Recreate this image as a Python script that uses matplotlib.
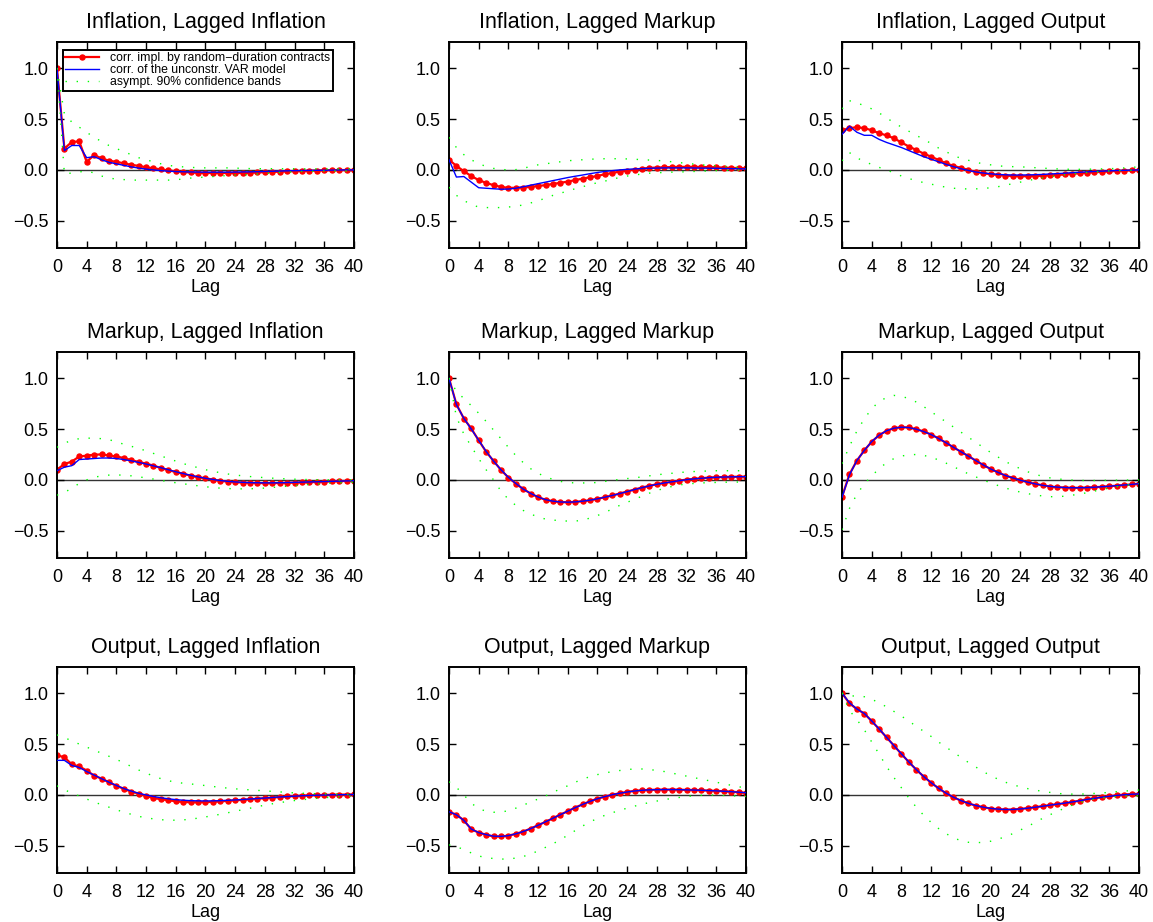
import matplotlib.pyplot as plt
import numpy as np
from matplotlib.ticker import FuncFormatter

plt.rcParams['font.family'] = ['Liberation Sans', 'DejaVu Sans']

lags = np.arange(41)

titles = ['Inflation, Lagged Inflation', 'Inflation, Lagged Markup', 'Inflation, Lagged Output',
          'Markup, Lagged Inflation', 'Markup, Lagged Markup', 'Markup, Lagged Output',
          'Output, Lagged Inflation', 'Output, Lagged Markup', 'Output, Lagged Output']

# --- Inflation, Lagged Inflation ---
ii_model = [1.00, 0.21, 0.275, 0.28, 0.08, 0.145, 0.115, 0.09, 0.08, 0.065, 0.05, 0.04, 0.026, 0.016, 0.005,
            -0.005, -0.013, -0.02, -0.025, -0.028, -0.03, -0.03, -0.03, -0.03, -0.03, -0.03, -0.028, -0.025,
            -0.022, -0.02, -0.017, -0.014, -0.012, -0.01, -0.008, -0.006, -0.004, -0.003, -0.002, -0.001, 0.0]
ii_var = [1.00, 0.19, 0.24, 0.24, 0.12, 0.13, 0.10, 0.075, 0.06, 0.045, 0.03, 0.018, 0.008, 0.0, -0.007,
          -0.012, -0.016, -0.018, -0.02, -0.021, -0.022, -0.022, -0.022, -0.022, -0.021, -0.02, -0.019, -0.017,
          -0.015, -0.013, -0.011, -0.009, -0.007, -0.006, -0.005, -0.004, -0.003, -0.002, -0.001, 0.0, 0.0]
ii_upper = [1.0, 0.55, 0.47, 0.42, 0.37, 0.32, 0.28, 0.24, 0.21, 0.18, 0.15, 0.12, 0.10, 0.08, 0.06, 0.045,
            0.035, 0.03, 0.025, 0.022, 0.02, 0.02, 0.02, 0.02, 0.018, 0.015, 0.013, 0.012, 0.012, 0.012, 0.012,
            0.012, 0.012, 0.011, 0.01, 0.01, 0.01, 0.01, 0.01, 0.01, 0.01]
ii_lower = [1.0, -0.04, -0.03, -0.02, -0.01, -0.03, -0.06, -0.08, -0.09, -0.095, -0.10, -0.10, -0.10, -0.10,
            -0.10, -0.10, -0.095, -0.09, -0.08, -0.075, -0.07, -0.065, -0.06, -0.055, -0.05, -0.05, -0.045,
            -0.04, -0.035, -0.03, -0.025, -0.02, -0.02, -0.015, -0.015, -0.012, -0.01, -0.01, -0.01, -0.01, -0.01]

# --- Inflation, Lagged Markup ---
im_model = [0.10, 0.04, -0.013, -0.06, -0.10, -0.127, -0.15, -0.167, -0.176, -0.176, -0.173, -0.167, -0.157,
            -0.15, -0.137, -0.127, -0.114, -0.10, -0.085, -0.072, -0.059, -0.042, -0.03, -0.016, -0.007, 0.003,
            0.013, 0.02, 0.023, 0.026, 0.028, 0.03, 0.03, 0.03, 0.029, 0.027, 0.025, 0.023, 0.02, 0.018, 0.015]
im_var = [0.10, -0.07, -0.065, -0.12, -0.175, -0.18, -0.185, -0.19, -0.188, -0.18, -0.165, -0.15, -0.135,
          -0.12, -0.105, -0.09, -0.075, -0.062, -0.05, -0.037, -0.025, -0.015, -0.007, 0.0, 0.006, 0.01, 0.013,
          0.016, 0.018, 0.02, 0.02, 0.02, 0.02, 0.019, 0.018, 0.017, 0.016, 0.014, 0.013, 0.011, 0.01]
im_upper = [0.32, 0.22, 0.15, 0.10, 0.06, 0.035, 0.015, 0.005, 0.0, 0.003, 0.015, 0.035, 0.05, 0.06, 0.07,
            0.08, 0.09, 0.095, 0.10, 0.105, 0.108, 0.11, 0.11, 0.11, 0.108, 0.105, 0.10, 0.097, 0.093, 0.088,
            0.08, 0.072, 0.065, 0.057, 0.05, 0.045, 0.04, 0.035, 0.03, 0.025, 0.02]
im_lower = [-0.17, -0.25, -0.30, -0.34, -0.365, -0.37, -0.37, -0.37, -0.365, -0.355, -0.345, -0.325, -0.30,
            -0.28, -0.25, -0.23, -0.205, -0.185, -0.165, -0.145, -0.125, -0.11, -0.09, -0.075, -0.06, -0.05,
            -0.04, -0.032, -0.028, -0.025, -0.022, -0.02, -0.018, -0.015, -0.012, -0.01, -0.007, -0.005, -0.003,
            -0.001, 0.0]

# --- Inflation, Lagged Output ---
io_model = [0.39, 0.41, 0.42, 0.41, 0.39, 0.36, 0.34, 0.31, 0.27, 0.23, 0.196, 0.16, 0.13, 0.098, 0.065, 0.04,
            0.02, 0.0, -0.02, -0.033, -0.042, -0.05, -0.055, -0.06, -0.062, -0.062, -0.06, -0.057, -0.053, -0.05,
            -0.044, -0.038, -0.033, -0.028, -0.023, -0.018, -0.014, -0.01, -0.007, -0.004, 0.0]
io_var = [0.35, 0.43, 0.37, 0.34, 0.34, 0.30, 0.27, 0.245, 0.22, 0.19, 0.16, 0.13, 0.105, 0.08, 0.055, 0.032,
          0.012, -0.005, -0.02, -0.03, -0.038, -0.044, -0.048, -0.05, -0.05, -0.049, -0.047, -0.044, -0.04,
          -0.036, -0.032, -0.027, -0.023, -0.019, -0.015, -0.012, -0.009, -0.006, -0.004, -0.002, 0.0]
io_upper = [0.60, 0.68, 0.66, 0.63, 0.60, 0.56, 0.51, 0.465, 0.42, 0.38, 0.34, 0.30, 0.26, 0.215, 0.18, 0.14,
            0.115, 0.095, 0.075, 0.06, 0.05, 0.04, 0.035, 0.032, 0.03, 0.027, 0.022, 0.018, 0.013, 0.01, 0.007,
            0.006, 0.006, 0.007, 0.008, 0.01, 0.012, 0.015, 0.02, 0.025, 0.03]
io_lower = [0.09, 0.17, 0.12, 0.08, 0.055, 0.025, 0.0, -0.03, -0.06, -0.085, -0.105, -0.125, -0.14, -0.155,
            -0.17, -0.18, -0.185, -0.187, -0.186, -0.183, -0.175, -0.165, -0.15, -0.135, -0.12, -0.105, -0.09,
            -0.078, -0.068, -0.058, -0.048, -0.04, -0.032, -0.025, -0.02, -0.015, -0.01, -0.007, -0.005, -0.003, 0.0]

# --- Markup, Lagged Inflation ---
mi_model = [0.10, 0.156, 0.18, 0.23, 0.238, 0.248, 0.25, 0.24, 0.23, 0.215, 0.195, 0.176, 0.16, 0.14, 0.117,
            0.095, 0.078, 0.059, 0.042, 0.026, 0.016, 0.003, -0.01, -0.016, -0.023, -0.026, -0.029, -0.03, -0.032,
            -0.032, -0.03, -0.029, -0.027, -0.025, -0.023, -0.02, -0.018, -0.015, -0.012, -0.01, -0.008]
mi_var = [0.09, 0.125, 0.14, 0.20, 0.205, 0.21, 0.215, 0.215, 0.21, 0.20, 0.187, 0.172, 0.156, 0.138, 0.12,
          0.10, 0.08, 0.062, 0.045, 0.03, 0.016, 0.004, -0.006, -0.014, -0.02, -0.024, -0.027, -0.028, -0.029,
          -0.029, -0.028, -0.026, -0.024, -0.022, -0.02, -0.018, -0.016, -0.014, -0.012, -0.01, -0.008]
mi_upper = [0.32, 0.36, 0.39, 0.405, 0.41, 0.41, 0.405, 0.395, 0.375, 0.35, 0.33, 0.31, 0.285, 0.26, 0.235,
            0.21, 0.185, 0.16, 0.14, 0.12, 0.10, 0.085, 0.07, 0.058, 0.048, 0.04, 0.033, 0.027, 0.022, 0.017,
            0.013, 0.01, 0.007, 0.005, 0.003, 0.002, 0.001, 0.0, 0.0, 0.0, 0.0]
mi_lower = [-0.15, -0.125, -0.08, -0.035, 0.0, 0.025, 0.04, 0.047, 0.05, 0.045, 0.04, 0.03, 0.02, 0.008,
            -0.005, -0.017, -0.028, -0.038, -0.048, -0.058, -0.067, -0.075, -0.081, -0.085, -0.088, -0.088,
            -0.087, -0.085, -0.08, -0.074, -0.068, -0.062, -0.056, -0.05, -0.044, -0.04, -0.035, -0.031, -0.028,
            -0.025, -0.022]

# --- Markup, Lagged Markup ---
mm_model = [1.0, 0.743, 0.603, 0.505, 0.388, 0.277, 0.186, 0.098, 0.023, -0.036, -0.09, -0.134, -0.17, -0.195,
            -0.21, -0.218, -0.22, -0.216, -0.209, -0.2, -0.186, -0.17, -0.153, -0.134, -0.114, -0.095, -0.075,
            -0.059, -0.042, -0.03, -0.02, -0.007, 0.003, 0.01, 0.016, 0.023, 0.026, 0.028, 0.03, 0.031, 0.032]
mm_var = [1.0, 0.74, 0.605, 0.50, 0.39, 0.28, 0.185, 0.10, 0.025, -0.035, -0.09, -0.133, -0.168, -0.194,
          -0.209, -0.217, -0.219, -0.216, -0.209, -0.199, -0.186, -0.17, -0.153, -0.134, -0.115, -0.095, -0.076,
          -0.059, -0.043, -0.03, -0.019, -0.008, 0.002, 0.01, 0.016, 0.022, 0.026, 0.028, 0.03, 0.031, 0.032]
mm_upper = [1.0, 0.87, 0.80, 0.73, 0.655, 0.575, 0.49, 0.405, 0.32, 0.24, 0.17, 0.11, 0.065, 0.03, 0.005,
            -0.015, -0.025, -0.03, -0.03, -0.03, -0.025, -0.015, -0.005, 0.005, 0.013, 0.02, 0.03, 0.04, 0.05,
            0.058, 0.065, 0.072, 0.078, 0.082, 0.085, 0.088, 0.09, 0.09, 0.09, 0.09, 0.09]
mm_lower = [1.0, 0.62, 0.45, 0.33, 0.21, 0.10, 0.0, -0.11, -0.19, -0.25, -0.30, -0.335, -0.365, -0.385,
            -0.395, -0.40, -0.405, -0.405, -0.395, -0.375, -0.35, -0.32, -0.285, -0.25, -0.22, -0.19, -0.16,
            -0.13, -0.105, -0.082, -0.065, -0.05, -0.04, -0.035, -0.03, -0.027, -0.025, -0.023, -0.022, -0.021, -0.02]

# --- Markup, Lagged Output ---
mo_model = [-0.166, 0.055, 0.19, 0.29, 0.375, 0.44, 0.482, 0.508, 0.518, 0.515, 0.498, 0.476, 0.446, 0.407,
            0.365, 0.32, 0.277, 0.235, 0.19, 0.147, 0.107, 0.075, 0.042, 0.02, -0.003, -0.023, -0.04, -0.052,
            -0.065, -0.072, -0.075, -0.078, -0.078, -0.075, -0.072, -0.068, -0.062, -0.057, -0.05, -0.045, -0.036]
mo_var = [-0.17, 0.05, 0.19, 0.29, 0.377, 0.44, 0.483, 0.508, 0.518, 0.514, 0.498, 0.475, 0.445, 0.407,
          0.365, 0.321, 0.277, 0.234, 0.19, 0.148, 0.108, 0.074, 0.043, 0.019, -0.003, -0.022, -0.039, -0.053,
          -0.064, -0.071, -0.075, -0.077, -0.077, -0.075, -0.072, -0.067, -0.062, -0.056, -0.05, -0.044, -0.037]
mo_upper = [0.16, 0.33, 0.48, 0.60, 0.70, 0.77, 0.81, 0.83, 0.82, 0.80, 0.765, 0.72, 0.67, 0.62, 0.57, 0.52,
            0.47, 0.42, 0.37, 0.32, 0.27, 0.225, 0.18, 0.145, 0.11, 0.08, 0.055, 0.035, 0.02, 0.01, 0.003,
            -0.002, -0.005, -0.006, -0.006, -0.005, -0.004, -0.003, -0.002, -0.001, 0.0]
mo_lower = [-0.49, -0.28, -0.14, -0.04, 0.04, 0.11, 0.17, 0.21, 0.235, 0.245, 0.25, 0.24, 0.225, 0.195, 0.165,
            0.13, 0.095, 0.06, 0.03, 0.0, -0.03, -0.055, -0.08, -0.1, -0.12, -0.135, -0.148, -0.158, -0.165,
            -0.165, -0.16, -0.15, -0.14, -0.125, -0.11, -0.095, -0.08, -0.067, -0.055, -0.045, -0.035]

# --- Output, Lagged Inflation ---
oi_model = [0.39, 0.37, 0.30, 0.28, 0.24, 0.19, 0.16, 0.125, 0.09, 0.06, 0.033, 0.013, -0.01, -0.03, -0.042,
            -0.052, -0.062, -0.069, -0.072, -0.072, -0.07, -0.068, -0.063, -0.058, -0.053, -0.048, -0.043, -0.037,
            -0.032, -0.027, -0.02, -0.015, -0.011, -0.007, -0.004, -0.002, 0.0, 0.002, 0.003, 0.004, 0.005]
oi_var = [0.34, 0.34, 0.29, 0.27, 0.23, 0.195, 0.16, 0.125, 0.093, 0.063, 0.038, 0.016, 0.0, -0.015, -0.028,
          -0.038, -0.046, -0.052, -0.056, -0.058, -0.059, -0.058, -0.056, -0.053, -0.049, -0.045, -0.04, -0.035,
          -0.03, -0.025, -0.02, -0.016, -0.012, -0.008, -0.005, -0.003, -0.001, 0.001, 0.002, 0.003, 0.004]
oi_upper = [0.59, 0.565, 0.53, 0.50, 0.47, 0.44, 0.41, 0.38, 0.35, 0.315, 0.28, 0.245, 0.215, 0.185, 0.16,
            0.14, 0.125, 0.115, 0.108, 0.10, 0.092, 0.083, 0.075, 0.067, 0.06, 0.055, 0.05, 0.045, 0.04, 0.035,
            0.03, 0.025, 0.02, 0.017, 0.014, 0.012, 0.01, 0.008, 0.007, 0.006, 0.005]
oi_lower = [0.09, 0.05, 0.02, -0.01, -0.04, -0.07, -0.095, -0.12, -0.145, -0.17, -0.19, -0.21, -0.225, -0.235,
            -0.243, -0.248, -0.248, -0.245, -0.238, -0.228, -0.216, -0.203, -0.19, -0.175, -0.16, -0.145, -0.13,
            -0.115, -0.1, -0.087, -0.075, -0.065, -0.055, -0.047, -0.04, -0.033, -0.027, -0.022, -0.018, -0.014,
            -0.01]

# --- Output, Lagged Markup ---
om_model = [-0.167, -0.193, -0.25, -0.337, -0.37, -0.39, -0.408, -0.408, -0.40, -0.382, -0.36, -0.33, -0.297,
            -0.265, -0.229, -0.193, -0.16, -0.124, -0.092, -0.062, -0.036, -0.016, 0.003, 0.016, 0.03, 0.04,
            0.046, 0.049, 0.052, 0.052, 0.052, 0.052, 0.049, 0.049, 0.046, 0.042, 0.04, 0.036, 0.033, 0.026, 0.02]
om_var = [-0.165, -0.195, -0.25, -0.335, -0.37, -0.39, -0.405, -0.407, -0.40, -0.382, -0.36, -0.331, -0.298,
          -0.264, -0.229, -0.194, -0.159, -0.125, -0.093, -0.063, -0.037, -0.016, 0.002, 0.017, 0.029, 0.039,
          0.046, 0.05, 0.052, 0.053, 0.053, 0.052, 0.05, 0.048, 0.046, 0.043, 0.04, 0.036, 0.032, 0.027, 0.022]
om_upper = [0.13, 0.075, 0.0, -0.08, -0.135, -0.16, -0.17, -0.168, -0.155, -0.13, -0.1, -0.07, -0.04, -0.01,
            0.025, 0.06, 0.09, 0.125, 0.155, 0.18, 0.2, 0.215, 0.23, 0.24, 0.25, 0.255, 0.255, 0.25, 0.24, 0.23,
            0.215, 0.2, 0.185, 0.17, 0.155, 0.14, 0.125, 0.11, 0.095, 0.08, 0.07]
om_lower = [-0.49, -0.51, -0.535, -0.57, -0.60, -0.615, -0.625, -0.63, -0.63, -0.62, -0.605, -0.58, -0.55,
            -0.515, -0.48, -0.44, -0.395, -0.35, -0.305, -0.265, -0.23, -0.2, -0.175, -0.15, -0.13, -0.11, -0.09,
            -0.075, -0.06, -0.045, -0.035, -0.025, -0.015, -0.008, -0.003, 0.0, -0.002, -0.005, -0.008, -0.012,
            -0.015]

# --- Output, Lagged Output ---
oo_model = [1.0, 0.90, 0.843, 0.80, 0.725, 0.647, 0.565, 0.484, 0.402, 0.323, 0.248, 0.18, 0.12, 0.065, 0.016,
            -0.023, -0.056, -0.082, -0.105, -0.12, -0.134, -0.14, -0.144, -0.144, -0.137, -0.13, -0.12, -0.11,
            -0.10, -0.09, -0.082, -0.07, -0.056, -0.042, -0.033, -0.02, -0.013, -0.003, 0.003, 0.01, 0.01]
oo_var = [1.0, 0.905, 0.845, 0.80, 0.727, 0.648, 0.566, 0.484, 0.403, 0.324, 0.249, 0.181, 0.12, 0.066, 0.018,
          -0.022, -0.055, -0.082, -0.104, -0.12, -0.132, -0.139, -0.143, -0.143, -0.138, -0.13, -0.121, -0.111,
          -0.1, -0.09, -0.08, -0.069, -0.057, -0.044, -0.033, -0.022, -0.013, -0.005, 0.002, 0.007, 0.01]
oo_upper = [1.0, 0.97, 0.975, 0.965, 0.94, 0.905, 0.865, 0.82, 0.775, 0.725, 0.675, 0.625, 0.575, 0.52, 0.47,
            0.42, 0.37, 0.32, 0.275, 0.23, 0.19, 0.155, 0.125, 0.1, 0.08, 0.062, 0.048, 0.035, 0.025, 0.015,
            0.01, 0.008, 0.008, 0.01, 0.015, 0.02, 0.025, 0.032, 0.038, 0.043, 0.048]
oo_lower = [1.0, 0.83, 0.74, 0.64, 0.52, 0.40, 0.28, 0.17, 0.07, -0.03, -0.12, -0.2, -0.27, -0.33, -0.38,
            -0.42, -0.45, -0.465, -0.47, -0.465, -0.455, -0.435, -0.41, -0.38, -0.345, -0.31, -0.27, -0.23,
            -0.195, -0.16, -0.13, -0.1, -0.075, -0.055, -0.04, -0.03, -0.022, -0.016, -0.012, -0.01, -0.008]

panels = [(ii_model, ii_var, ii_upper, ii_lower), (im_model, im_var, im_upper, im_lower),
          (io_model, io_var, io_upper, io_lower), (mi_model, mi_var, mi_upper, mi_lower),
          (mm_model, mm_var, mm_upper, mm_lower), (mo_model, mo_var, mo_upper, mo_lower),
          (oi_model, oi_var, oi_upper, oi_lower), (om_model, om_var, om_upper, om_lower),
          (oo_model, oo_var, oo_upper, oo_lower)]

fig = plt.figure(figsize=(11.53, 9.22), dpi=100)

col_left = [0.0494, 0.3894, 0.7303]
row_bottom = [0.7307, 0.3945, 0.0528]
w, h = 0.2576, 0.2241

ytick_fmt = FuncFormatter(lambda v, p: ('%.1f' % v).replace('-', '\u2212'))

for k, (model, var, upper, lower) in enumerate(panels):
    r, c = divmod(k, 3)
    ax = fig.add_axes([col_left[c], row_bottom[r], w, h])
    ax.axhline(0, color='#333333', lw=1.0, zorder=1)
    l1, = ax.plot(lags, model, '-o', color='red', lw=1.6, ms=3.6, mec='red', zorder=2)
    l2, = ax.plot(lags, var, '-', color='blue', lw=1.0, zorder=3)
    l3, = ax.plot(lags, upper, color='#00ff00', lw=1.0, dashes=(1, 7), zorder=4)
    ax.plot(lags, lower, color='#00ff00', lw=1.0, dashes=(1, 7), zorder=4)

    ax.set_xlim(0, 40)
    ax.set_ylim(-0.77, 1.26)
    ax.set_xticks(np.arange(0, 41, 4))
    ax.set_yticks([-0.5, 0.0, 0.5, 1.0])
    ax.yaxis.set_major_formatter(ytick_fmt)
    ax.tick_params(direction='in', top=True, right=True, length=5, width=1, labelsize=13)
    ax.tick_params(axis='x', pad=8)
    ax.tick_params(axis='y', pad=6)
    for s in ax.spines.values():
        s.set_linewidth(1.4)
    ax.set_title(titles[k], fontsize=15.5, pad=10)
    ax.set_xlabel('Lag', fontsize=13, labelpad=2)

    if k == 0:
        ax.legend([l1, l2, l3],
                  ['corr. impl. by random\u2212duration contracts', 'corr. of the unconstr. VAR model',
                   'asympt. 90% confidence bands'],
                  loc='upper left', bbox_to_anchor=(0.019, 0.96), borderaxespad=0,
                  fontsize=8.8, fancybox=False, framealpha=1, edgecolor='black',
                  handlelength=2.8, handletextpad=0.9, labelspacing=0.0, borderpad=0.2)
        ax.get_legend().get_frame().set_linewidth(1.4)

plt.savefig('out.png', dpi=100)
